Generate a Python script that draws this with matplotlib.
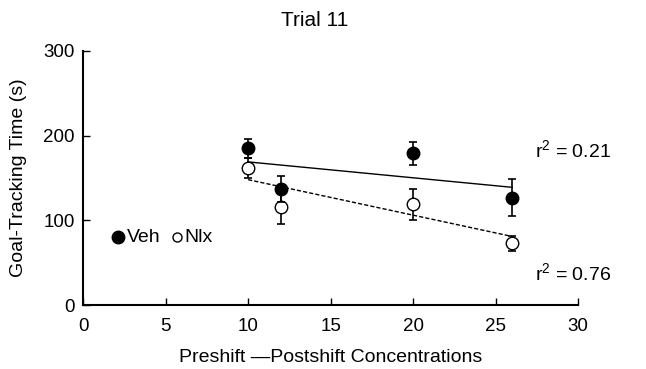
import matplotlib.pyplot as plt
import numpy as np

plt.rcParams['font.family'] = ['Liberation Sans', 'DejaVu Sans']
plt.rcParams['mathtext.fontset'] = 'custom'
plt.rcParams['mathtext.rm'] = 'Liberation Sans'
plt.rcParams['mathtext.it'] = 'Liberation Sans'

# concentrations (x) and group means / SEM
conc = [10, 12, 20, 26]
veh_mean = [185, 137, 179, 127]
veh_sem = [11, 15, 14, 22]
nlx_mean = [162, 116, 119, 73]
nlx_sem = [12, 20, 18, 9]

# regression fits (slope, intercept) and r^2 labels
veh_fit = (-1.875, 187.8)
nlx_fit = (-4.19, 190.0)
veh_r2 = 'r$^{\\mathrm{2}}$ = 0.21'
nlx_r2 = 'r$^{\\mathrm{2}}$ = 0.76'

fig = plt.figure(figsize=(6.46, 3.69), dpi=100)
ax = fig.add_axes([0.1285, 0.173, 0.7665, 0.689])

xf = np.array([conc[0], conc[-1]])
ax.plot(xf, veh_fit[0] * xf + veh_fit[1], color='black', lw=1, zorder=1)
ax.plot(xf, nlx_fit[0] * xf + nlx_fit[1], color='black', lw=1, ls=(0, (3, 1.5)), zorder=1)

ax.errorbar(conc, nlx_mean, yerr=nlx_sem, fmt='o', mfc='white', mec='black',
            ecolor='black', ms=9, capsize=3, elinewidth=1.2, capthick=1.2, zorder=3)
ax.errorbar(conc, veh_mean, yerr=veh_sem, fmt='o', mfc='black', mec='black',
            ecolor='black', ms=9, capsize=3, elinewidth=1.2, capthick=1.2, zorder=4)

ax.text(27.4, 183, veh_r2, fontsize=14, ha='left', va='center')
ax.text(27.4, 38, nlx_r2, fontsize=14, ha='left', va='center')

# inline legend
ax.plot([2.1], [80], 'o', color='black', ms=9, clip_on=False)
ax.text(2.65, 80, 'Veh', fontsize=14, va='center')
ax.plot([5.7], [80], 'o', mfc='white', mec='black', ms=6.5)
ax.text(6.15, 80, 'Nlx', fontsize=14, va='center')

ax.set_xlim(0, 30)
ax.set_ylim(0, 300)
ax.set_xticks([0, 5, 10, 15, 20, 25, 30])
ax.set_yticks([0, 100, 200, 300])
ax.tick_params(direction='in', labelsize=13.5, length=5, width=1)
ax.tick_params(axis='x', pad=9)
ax.tick_params(axis='y', pad=6)
ax.spines['top'].set_visible(False)
ax.spines['right'].set_visible(False)
ax.spines['left'].set_linewidth(1.5)
ax.spines['bottom'].set_linewidth(1.5)
ax.set_xlabel('Preshift \u2014Postshift Concentrations', fontsize=14, labelpad=10)
ax.set_ylabel('Goal-Tracking Time (s)', fontsize=14, labelpad=12)

fig.text(315 / 646, 1 - 20 / 369, 'Trial 11', fontsize=15, ha='center', va='center')

fig.savefig('out.png', dpi=100)
